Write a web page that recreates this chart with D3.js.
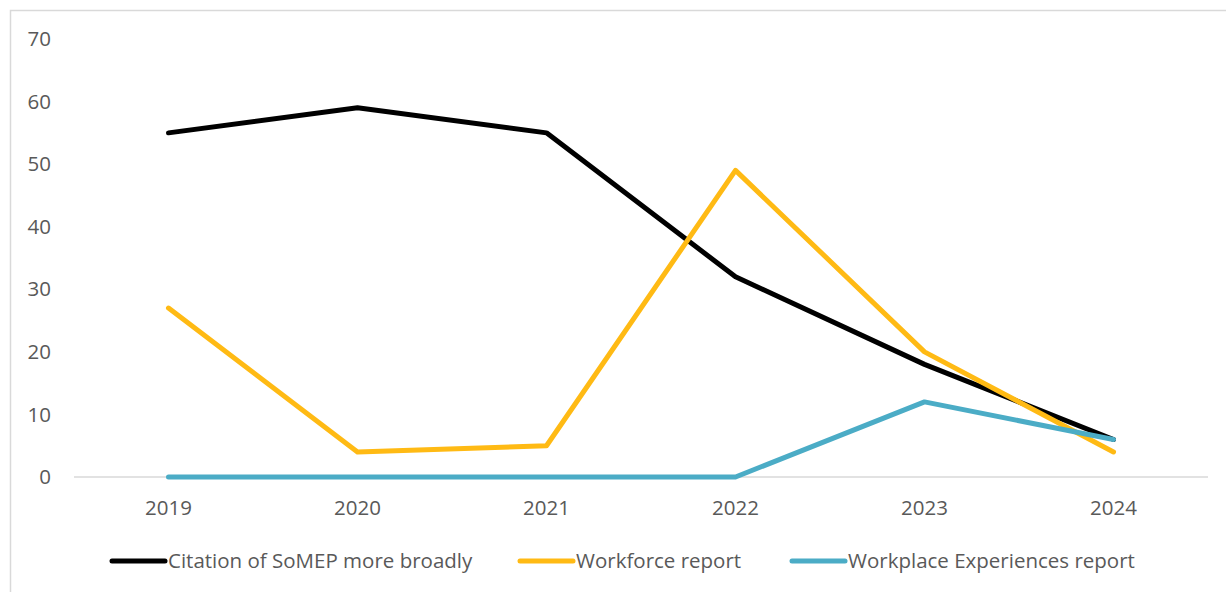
<!DOCTYPE html>
<html>
<head>
<meta charset="utf-8">
<script src="https://cdn.jsdelivr.net/npm/d3@7"></script>
<style>
  body { margin: 0; background: #fff; }
  svg text { font-family: "Open Sans", "Liberation Sans", sans-serif; fill: #595959; }
</style>
</head>
<body>
<div id="chart"></div>
<script>
"use strict";

var years = ["2019", "2020", "2021", "2022", "2023", "2024"];
var citationSeries = [55, 59, 55, 32, 18, 6];
var workforceSeries = [27, 4, 5, 49, 20, 4];
var workplaceSeries = [0, 0, 0, 0, 12, 6];
var yTicks = [0, 10, 20, 30, 40, 50, 60, 70];

var series = [
  { name: "Citation of SoMEP more broadly", values: citationSeries, color: "#000000" },
  { name: "Workforce report", values: workforceSeries, color: "#FFBA14" },
  { name: "Workplace Experiences report", values: workplaceSeries, color: "#4BACC6" }
];

var width = 1226, height = 592;
var margin = { top: 39, right: 18, bottom: 115, left: 74 };
var fontSize = 20.5;

var svg = d3.select("#chart").append("svg")
  .attr("width", width)
  .attr("height", height);

// outer chart border (only left/top visible)
svg.append("rect")
  .attr("x", 10.5).attr("y", 10.5)
  .attr("width", 1240).attr("height", 600)
  .attr("fill", "none")
  .attr("stroke", "#d9d9d9")
  .attr("stroke-width", 1.5);

var x = d3.scaleBand()
  .domain(years)
  .range([margin.left, width - margin.right]);

var y = d3.scaleLinear()
  .domain([0, 70])
  .range([height - margin.bottom, margin.top]);

// y labels
svg.selectAll(".ylab")
  .data(yTicks)
  .enter().append("text")
  .attr("class", "ylab")
  .attr("x", 51)
  .attr("y", function(d) { return y(d); })
  .attr("dy", "0.35em")
  .attr("text-anchor", "end")
  .attr("font-size", fontSize)
  .text(function(d) { return d; });

// baseline
svg.append("line")
  .attr("x1", margin.left).attr("x2", width - margin.right)
  .attr("y1", y(0)).attr("y2", y(0))
  .attr("stroke", "#d9d9d9")
  .attr("stroke-width", 1.5);

// x labels
svg.selectAll(".xlab")
  .data(years)
  .enter().append("text")
  .attr("class", "xlab")
  .attr("x", function(d) { return x(d) + x.bandwidth() / 2; })
  .attr("y", y(0) + 38)
  .attr("text-anchor", "middle")
  .attr("font-size", fontSize)
  .text(function(d) { return d; });

var line = d3.line()
  .x(function(d, i) { return x(years[i]) + x.bandwidth() / 2; })
  .y(function(d) { return y(d); });

// series in order, last one on top
series.forEach(function(s) {
  svg.append("path")
    .datum(s.values)
    .attr("d", line)
    .attr("fill", "none")
    .attr("stroke", s.color)
    .attr("stroke-width", 5)
    .attr("stroke-linejoin", "round")
    .attr("stroke-linecap", "round");
});

// legend
var legendX = [112, 520, 792];
var legend = svg.selectAll(".legend")
  .data(series)
  .enter().append("g")
  .attr("class", "legend")
  .attr("transform", function(d, i) { return "translate(" + legendX[i] + "," + 561 + ")"; });

legend.append("line")
  .attr("x1", 0).attr("x2", 53)
  .attr("y1", 0).attr("y2", 0)
  .attr("stroke", function(d) { return d.color; })
  .attr("stroke-width", 5)
  .attr("stroke-linecap", "round");

legend.append("text")
  .attr("x", 56)
  .attr("dy", "0.35em")
  .attr("font-size", fontSize)
  .text(function(d) { return d.name; });
</script>
</body>
</html>
